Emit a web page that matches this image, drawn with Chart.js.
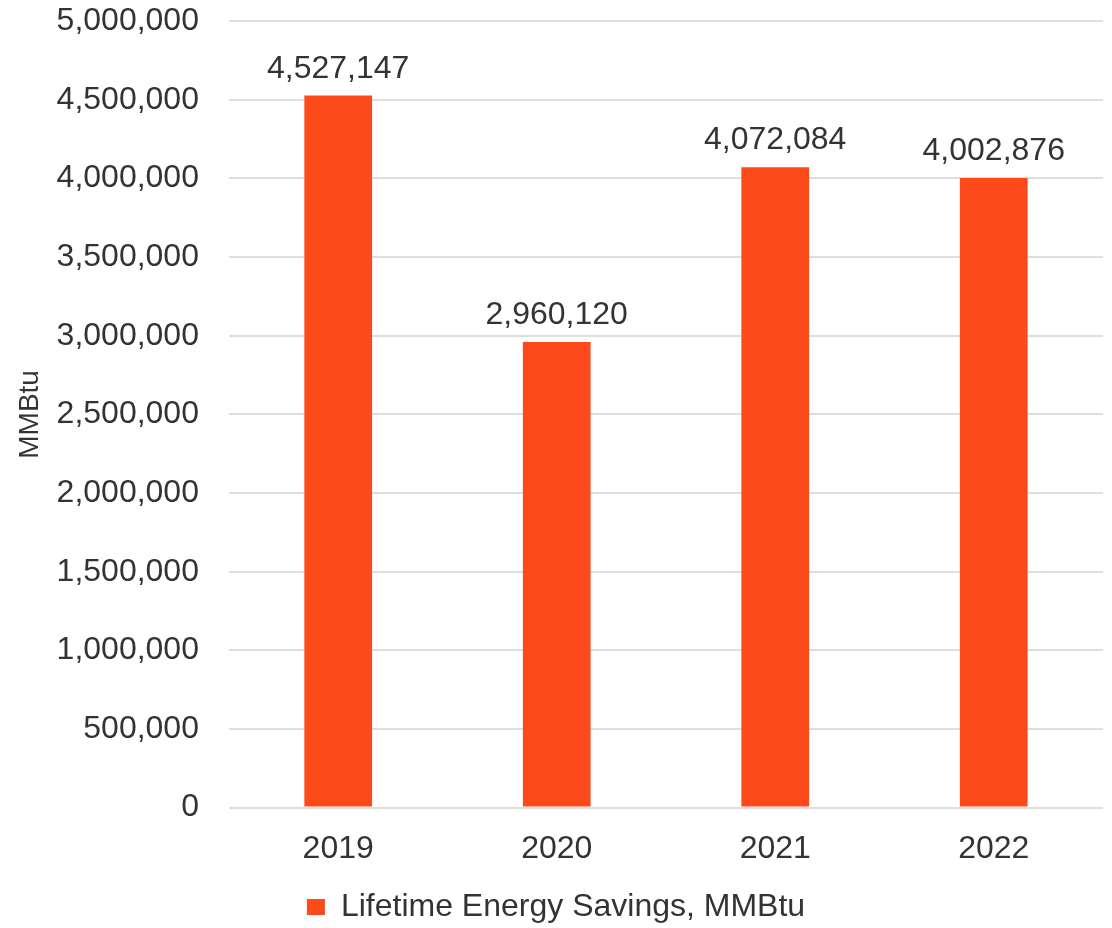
<!DOCTYPE html>
<html>
<head>
<meta charset="utf-8">
<script src="https://cdn.jsdelivr.net/npm/chart.js@4/dist/chart.umd.min.js"></script>
<style>
  html, body { margin: 0; padding: 0; background: #fff; overflow: hidden; }
  #wrap { width: 1112px; height: 933px; position: relative; }
</style>
</head>
<body>
<div id="wrap"><canvas id="chart"></canvas></div>
<script>
const years = ["2019", "2020", "2021", "2022"];
const savings = [4527147, 2960120, 4072084, 4002876];
const seriesName = "Lifetime Energy Savings, MMBtu";
const axisTitle = "MMBtu";

const fontFamily = "'Liberation Sans', Arial, sans-serif";
const textColor = "#333333";
const barColor = "#FC4A1A";

// draws the value above every bar
const barValues = {
  id: "barValues",
  afterDatasetsDraw(chart) {
    const ctx = chart.ctx;
    const meta = chart.getDatasetMeta(0);
    ctx.save();
    ctx.font = "32px " + fontFamily;
    ctx.fillStyle = textColor;
    ctx.textAlign = "center";
    ctx.textBaseline = "alphabetic";
    meta.data.forEach((bar, i) => {
      ctx.fillText(savings[i].toLocaleString("en-US"), bar.x, bar.y - 18);
    });
    ctx.restore();
  }
};

new Chart(document.getElementById("chart"), {
  type: "bar",
  data: {
    labels: years,
    datasets: [{
      label: seriesName,
      data: savings,
      backgroundColor: barColor,
      borderWidth: 0,
      categoryPercentage: 1,
      barPercentage: 0.31
    }]
  },
  options: {
    responsive: true,
    maintainAspectRatio: false,
    animation: false,
    layout: { padding: { top: -3, right: 9, bottom: 0, left: 9 } },
    plugins: {
      tooltip: { enabled: false },
      legend: {
        position: "bottom",
        labels: {
          boxWidth: 18,
          boxHeight: 16,
          padding: 10,
          color: textColor,
          font: { family: fontFamily, size: 32 }
        }
      }
    },
    scales: {
      x: {
        grid: {
          display: true,
          drawOnChartArea: false,
          drawTicks: true,
          tickLength: 9,
          tickColor: "transparent"
        },
        border: { display: false },
        ticks: {
          color: textColor,
          padding: 13,
          font: { family: fontFamily, size: 32 }
        }
      },
      y: {
        min: 0,
        max: 5000000,
        grid: {
          color: "#dedede",
          lineWidth: 2,
          drawTicks: true,
          tickLength: 28,
          tickColor: "transparent"
        },
        border: { display: false },
        ticks: {
          stepSize: 500000,
          color: textColor,
          padding: 2,
          font: { family: fontFamily, size: 32 },
          callback: v => v.toLocaleString("en-US")
        },
        title: {
          display: true,
          text: axisTitle,
          color: textColor,
          padding: { top: 4, bottom: 8 },
          font: { family: fontFamily, size: 28 }
        }
      }
    }
  },
  plugins: [barValues]
});
</script>
</body>
</html>
